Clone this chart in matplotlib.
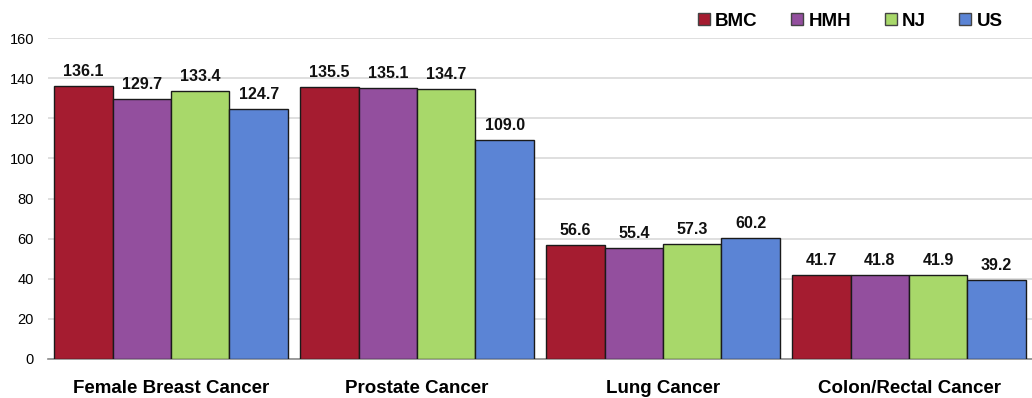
import numpy as np
import matplotlib.pyplot as plt
from matplotlib.lines import Line2D

plt.rcParams['font.family'] = ['Liberation Sans', 'DejaVu Sans']

# data
categories = ["Female Breast Cancer", "Prostate Cancer", "Lung Cancer", "Colon/Rectal Cancer"]
series = ["BMC", "HMH", "NJ", "US"]
bmc = [136.1, 135.5, 56.6, 41.7]
hmh = [129.7, 135.1, 55.4, 41.8]
nj = [133.4, 134.7, 57.3, 41.9]
us = [124.7, 109.0, 60.2, 39.2]
colors = ["#A51C30", "#934F9E", "#A8D86A", "#5B84D5"]

fig = plt.figure(figsize=(10.32, 3.98), dpi=100)
ax = fig.add_axes([48 / 1032, 39 / 398, 1 - 48 / 1032, 321 / 398])

x = np.arange(len(categories))
w = 0.2375
for i, (name, vals) in enumerate(zip(series, [bmc, hmh, nj, us])):
    pos = x + (i - 1.5) * w
    ax.bar(pos, vals, width=w, color=colors[i], edgecolor="#1a1a1a", linewidth=1.0, zorder=3)
    for p, v in zip(pos, vals):
        ax.text(p, v + 3.5, f"{v:.1f}", ha="center", va="bottom",
                fontsize=11.5, fontweight="bold", color="#111111", zorder=4)

ax.set_xlim(-0.5, 3.5)
ax.set_ylim(0, 160)
ax.set_yticks(range(0, 161, 20))
ax.set_xticks(x)
ax.set_xticklabels(categories, fontsize=13.5, fontweight="bold")
ax.tick_params(axis="y", length=0, pad=10, labelsize=10.5)
ax.tick_params(axis="x", length=0, pad=15)
ax.grid(axis="y", color="#d9d9d9", linewidth=1.2, zorder=0)
for s in ["top", "right", "left"]:
    ax.spines[s].set_visible(False)
ax.spines["bottom"].set_color("#8c8c8c")
ax.spines["bottom"].set_linewidth(1.2)

handles = [Line2D([], [], marker="s", linestyle="none", markersize=8.5,
                  markerfacecolor=c, markeredgecolor="#444444") for c in colors]
fig.legend(handles, series, loc="upper right", bbox_to_anchor=(0.988, 1.01), ncol=4,
           frameon=False, prop={"weight": "bold", "size": 13.5},
           handletextpad=0.25, columnspacing=1.76, handlelength=0.7)

fig.savefig("out.png", dpi=100)
